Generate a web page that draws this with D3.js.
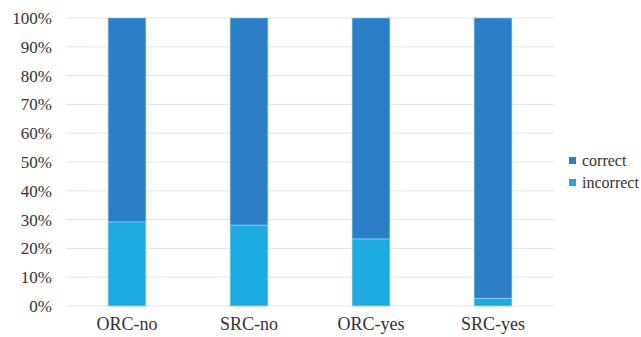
<!DOCTYPE html>
<html><head><meta charset="utf-8">
<script src="https://cdn.jsdelivr.net/npm/d3@7"></script>
</head><body style="margin:0">
<svg id="c" width="641" height="337"></svg>
<script>
const categories = ["ORC-no", "SRC-no", "ORC-yes", "SRC-yes"];
const incorrect = [29.2, 28.1, 23.3, 2.7];
const correct = [70.8, 71.9, 76.7, 97.3];
const yTicks = [0,10,20,30,40,50,60,70,80,90,100];
const seriesNames = ["correct", "incorrect"];
const colors = {correct: "#2a7fc6", incorrect: "#1eabe2"};
const fontNames = ["Liberation Serif"];

(function(){
const svg = d3.select("#c");
const mLeft = 66, mRight = 554, mTop = 18, mBottom = 306;
const x = d3.scaleBand().domain(categories).range([mLeft, mRight]).paddingInner(0.69).paddingOuter(0.345);
const y = d3.scaleLinear().domain([0, 100]).range([mBottom, mTop]);
const ff = () => `"${fontNames[0]}"`;

svg.append("g").selectAll("line").data(yTicks).join("line")
  .attr("x1", mLeft).attr("x2", mRight)
  .attr("y1", d => y(d)).attr("y2", d => y(d))
  .attr("stroke", "#e3e3e3").attr("stroke-width", 1);

const data = categories.map((c, i) => ({cat: c, incorrect: incorrect[i], correct: correct[i]}));
const stack = d3.stack().keys(["incorrect", "correct"])(data);
svg.append("g").selectAll("g").data(stack).join("g")
  .attr("fill", d => colors[d.key])
  .selectAll("rect").data(d => d).join("rect")
  .attr("x", d => x(d.data.cat))
  .attr("width", x.bandwidth())
  .attr("y", d => y(d[1]))
  .attr("height", d => y(d[0]) - y(d[1]))
  .attr("stroke", "#9fd3f0").attr("stroke-width", 0.6);

const yAxis = d3.axisLeft(y).tickValues(yTicks).tickFormat(d => d + "%").tickSize(0).tickPadding(14);
const ya = svg.append("g").attr("transform", `translate(${mLeft},0)`).call(yAxis);
ya.select(".domain").remove();
ya.selectAll("text").style("font-family", ff).style("font-size", "17px").attr("fill", "#333");

const xAxis = d3.axisBottom(x).tickSize(0).tickPadding(11);
const xa = svg.append("g").attr("transform", `translate(0,${mBottom})`).call(xAxis);
xa.select(".domain").remove();
xa.selectAll("text").style("font-family", ff).style("font-size", "18px").attr("fill", "#333");

svg.append("g").selectAll("rect").data(seriesNames).join("rect")
  .attr("x", 569).attr("y", (d, i) => 157 + i * 22).attr("width", 7).attr("height", 7)
  .attr("fill", d => colors[d]);
svg.append("g").selectAll("text").data(seriesNames).join("text")
  .attr("x", 582).attr("y", (d, i) => 166 + i * 22).text(d => d)
  .style("font-family", ff).style("font-size", "16px").attr("fill", "#333");
})();
</script></body></html>
